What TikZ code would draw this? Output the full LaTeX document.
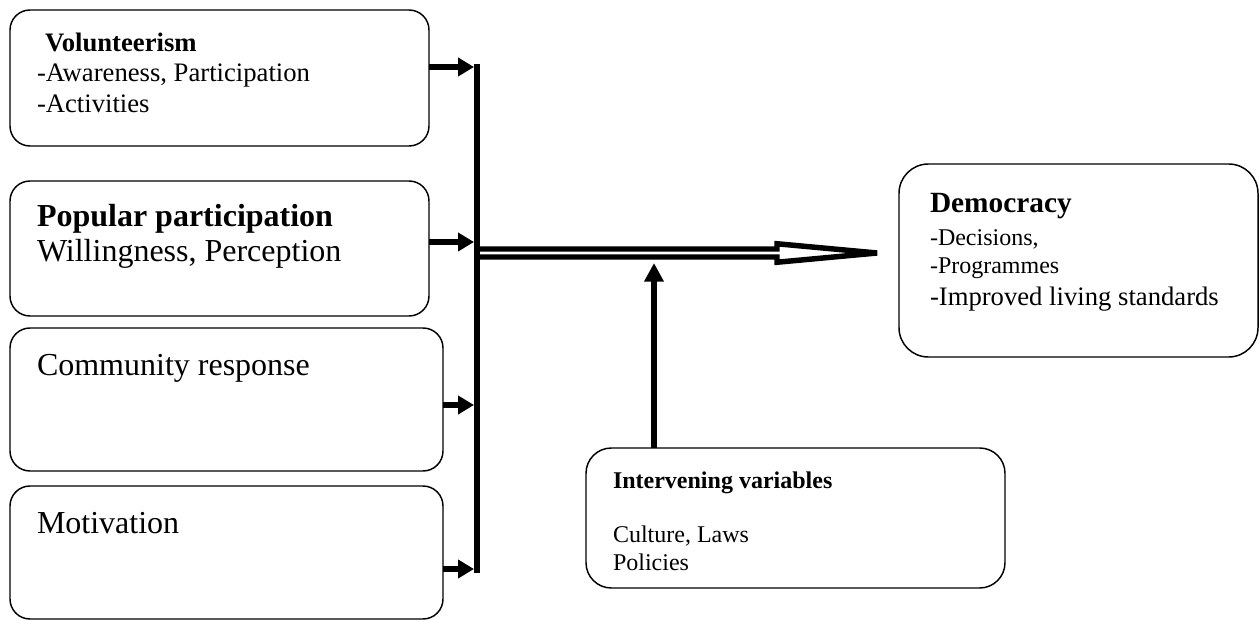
\documentclass[tikz,border=0pt]{standalone}
\usepackage{fontspec}
\setmainfont{Liberation Serif}
\usetikzlibrary{arrows.meta}
\begin{document}
\begin{tikzpicture}[x=0.75pt,y=-0.75pt,
  box/.style={draw, line width=1.1pt, rounded corners=15pt, anchor=north west, inner sep=0pt, outer sep=0pt},
  txt/.style={anchor=base west, inner sep=0pt, outer sep=0pt},
  feed/.style={line width=3.8pt, -{Triangle[length=12pt,width=13.5pt]}},
  uparr/.style={line width=3.8pt, -{Triangle[length=14pt,width=14pt]}},
  bar/.style={line width=4.5pt},
  hollow/.style={line width=4.1pt, line join=miter}
]
\useasboundingbox (0,0) rectangle (1259,620);

% boxes
\node[box, minimum width=419*0.75pt, minimum height=136*0.75pt] (vol) at (10,10) {};
\node[box, minimum width=419*0.75pt, minimum height=135*0.75pt] (pop) at (10,181) {};
\node[box, minimum width=433*0.75pt, minimum height=143*0.75pt] (com) at (10,328) {};
\node[box, minimum width=433*0.75pt, minimum height=133*0.75pt] (mot) at (10,486) {};
\node[box, rounded corners=22pt, minimum width=359*0.75pt, minimum height=193*0.75pt] (dem) at (899,164) {};
\node[box, rounded corners=19pt, minimum width=419*0.75pt, minimum height=140*0.75pt] (int) at (586,448) {};

% texts
\node[txt, font=\fontsize{20}{24}\selectfont\bfseries] (t1a) at (45,52) {Volunteerism};
\node[txt, font=\fontsize{20}{24}\selectfont] (t1b) at (37,82) {-Awareness, Participation};
\node[txt, font=\fontsize{20}{24}\selectfont] (t1c) at (37,113) {-Activities};
\node[txt, font=\fontsize{24}{29}\selectfont\bfseries] (t2a) at (37,227) {Popular participation};
\node[txt, font=\fontsize{24}{29}\selectfont] (t2b) at (37,262) {Willingness, Perception};
\node[txt, font=\fontsize{24}{29}\selectfont] (t3a) at (37,375) {Community response};
\node[txt, font=\fontsize{24}{29}\selectfont] (t4a) at (37,533) {Motivation};
\node[txt, font=\fontsize{22}{26}\selectfont\bfseries] (d1) at (930,213) {Democracy};
\node[txt, font=\fontsize{18}{22}\selectfont] (d2) at (930,246) {-Decisions,};
\node[txt, font=\fontsize{18}{22}\selectfont] (d3) at (930,273) {-Programmes};
\node[txt, font=\fontsize{20}{24}\selectfont] (d4) at (930,305) {-Improved living standards};
\node[txt, font=\fontsize{18}{22}\selectfont\bfseries] (i1) at (613,488) {Intervening variables};
\node[txt, font=\fontsize{18}{22}\selectfont] (i2) at (613,542) {Culture, Laws};
\node[txt, font=\fontsize{18}{22}\selectfont] (i3) at (613,570) {Policies};

% collecting bar
\coordinate (btop) at (477,64.5);
\coordinate (bbot) at (477,572.5);
\draw[bar] (btop) -- (bbot);

% feed arrows
\coordinate (f1) at (474,67);
\coordinate (f2) at (474,242);
\coordinate (f3) at (474,405);
\coordinate (f4) at (474,569);
\draw[feed] (vol.east |- f1) -- (f1);
\draw[feed] (pop.east |- f2) -- (f2);
\draw[feed] (com.east |- f3) -- (f3);
\draw[feed] (mot.east |- f4) -- (f4);

% hollow double arrow to Democracy
\coordinate (hs) at (477,253);
\coordinate (ht) at (877,253);
\draw[hollow] ([yshift=3pt]hs) -- (777,249) -- (777,243.75) -- (ht) -- (777,262.25) -- (777,257) -- ([yshift=-3pt]hs);

% intervening arrow
\coordinate (vx) at (654,263);
\draw[uparr] (int.north -| vx) -- (vx);
\end{tikzpicture}
\end{document}
